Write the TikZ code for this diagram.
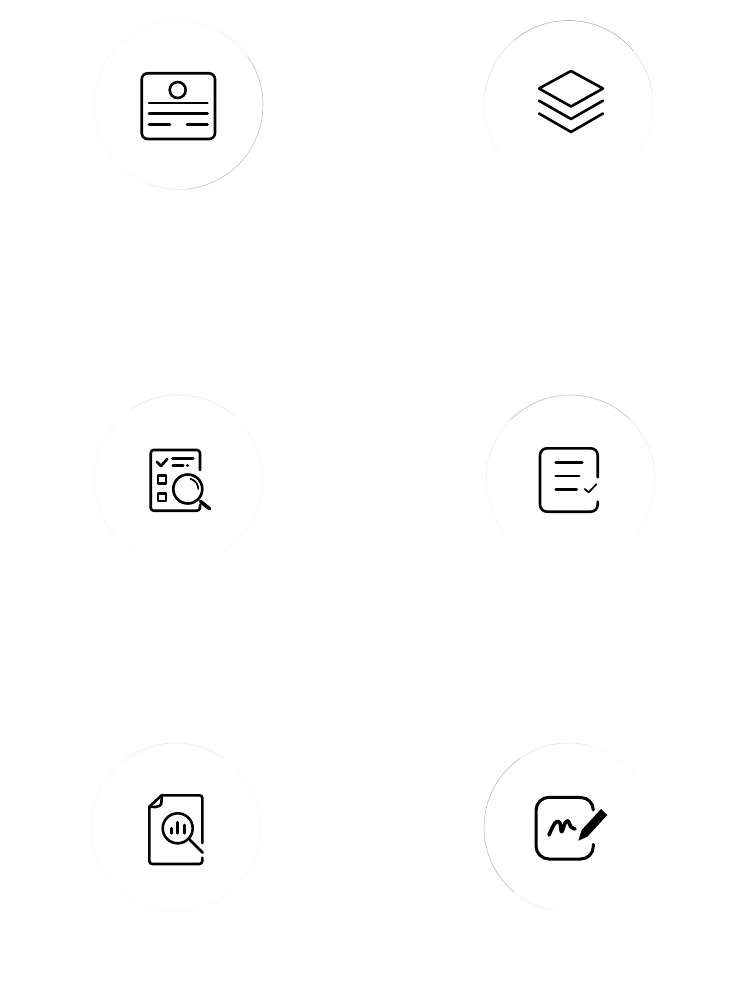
\documentclass[tikz,border=0pt]{standalone}
\newcommand{\ringarc}[5]{\draw[ringline,draw=black!#5] (#1,#2) ++(#3:84.5) arc (#3:#4:84.5);}
\tikzset{
  ringline/.style={line width=0.6pt},
  icon/.style={line width=2.6pt,draw=black,line cap=round,line join=round},
  thinicon/.style={line width=1.7pt,draw=black,line cap=round,line join=round},
  thickicon/.style={line width=3.6pt,draw=black,line cap=round,line join=round}
}
\begin{document}
\begin{tikzpicture}[x=1pt,y=-1pt]
\useasboundingbox[fill=white] (0,0) rectangle (750,1000);
% ring 1
\ringarc{178.5}{105}{110}{300}{3}
\ringarc{178.5}{105}{-60}{-35}{8}
\ringarc{178.5}{105}{-35}{20}{24}
\ringarc{178.5}{105}{20}{85}{24}
\ringarc{178.5}{105}{85}{110}{8}
% ring 2
\ringarc{568.5}{105}{-170}{-130}{12}
\ringarc{568.5}{105}{-130}{-40}{30}
\ringarc{568.5}{105}{-40}{-10}{12}
\ringarc{568.5}{105}{-10}{35}{3}
\ringarc{568.5}{105}{145}{190}{3}
% ring 3
\ringarc{178.5}{479.5}{-50}{60}{3}
\ringarc{178.5}{479.5}{120}{235}{3}
\ringarc{178.5}{479.5}{60}{120}{1}
\ringarc{178.5}{479.5}{-125}{-50}{9}
% ring 4
\ringarc{570.5}{479.5}{-180}{-135}{7}
\ringarc{570.5}{479.5}{-135}{-45}{26}
\ringarc{570.5}{479.5}{-45}{0}{7}
\ringarc{570.5}{479.5}{0}{40}{3}
\ringarc{570.5}{479.5}{140}{180}{3}
% ring 5
\ringarc{175.5}{827.5}{-55}{235}{3}
\ringarc{175.5}{827.5}{-125}{-55}{8}
% ring 6
\ringarc{568.5}{827.5}{100}{130}{6}
\ringarc{568.5}{827.5}{130}{235}{26}
\ringarc{568.5}{827.5}{235}{285}{10}
\ringarc{568.5}{827.5}{285}{325}{3}
% icon 1: id card
\draw[icon,rounded corners=6pt] (141.7,73.3) rectangle (215,139);
\draw[icon] (177.7,90) circle[radius=8];
\draw[icon] (149,103) -- (207.5,103);
\draw[icon] (149,113.7) -- (207.5,113.7);
\draw[icon] (149,124.3) -- (170,124.3);
\draw[icon] (187,124.3) -- (207.5,124.3);
% icon 2: layers
\draw[icon] (571,71) -- (603,88.5) -- (571,106.5) -- (539,88.5) -- cycle;
\draw[icon] (539,100.7) -- (571,119) -- (603,100.7);
\draw[icon] (539,113.5) -- (571,132) -- (603,113.5);
% icon 3: checklist with lens
\draw[icon,rounded corners=3pt] (200,470) -- (200,450) -- (150.7,450) -- (150.7,510.7) -- (200,510.7) -- (200,505);
\draw[icon] (156.7,461.7) -- (161,466) -- (167.3,459);
\draw[icon] (172.5,458.3) -- (193.3,458.3);
\draw[icon] (172.7,465.7) -- (183.3,465.7);
\draw[icon] (187.3,465.7) -- (187.6,465.7);
\draw[icon] (158,475.7) rectangle (166,483.7);
\draw[icon] (158,493.3) rectangle (166,501);
\draw[icon] (187.8,489) circle[radius=14.5];
\draw[thinicon] (187.8,489) ++(-75:10.5) arc (-75:0:10.5);
\draw[thickicon] (200.5,501.5) -- (209.5,508.7);
% icon 4: note with check
\draw[icon,rounded corners=7pt] (597.7,477.3) -- (597.7,448.3) -- (540,448.3) -- (540,511.7) -- (597.7,511.7) -- (597.7,501.7);
\draw[icon] (555.7,462.3) -- (582.3,462.3);
\draw[icon] (555.7,476) -- (579.3,476);
\draw[icon] (555.7,489.7) -- (576.7,489.7);
\draw[thinicon] (584.7,489) -- (588.7,492.3) -- (596.3,484.3);
% icon 5: document with lens
\draw[icon] (202.3,843) -- (202.3,798) arc (0:-90:2.7) -- (161.7,795.3) -- (149.3,806.7) -- (149.3,861) arc (180:90:3) -- (199.3,864) arc (90:0:3) -- (202.3,857.7);
\draw[icon] (161.7,795.3) -- (161.5,802) .. controls (161.5,805.5) and (158.5,807) .. (155.5,807) -- (149.3,806.7);
\draw[icon] (177.7,828.3) circle[radius=15];
\draw[icon] (190,840) -- (202.7,852.7);
\draw[icon] (171.7,828.3) -- (171.7,833.3);
\draw[icon] (177.7,822.3) -- (177.7,833.3);
\draw[icon] (184.3,825) -- (184.3,833.3);
% icon 6: signature with pen
\draw[icon,line width=3pt] (593.3,810) arc (0:-90:12.5) -- (549,797.3) arc (-90:-180:13) -- (536,846) arc (180:90:13) -- (580.8,859) arc (90:0:12.5) -- (593.3,844.3);
\fill[black] (601,809) -- (607.3,815) -- (587.3,836.7) -- (578.3,840.7) -- (581.7,830) -- cycle;
\draw[thickicon] plot[smooth,tension=0.7] coordinates {(549,835) (553.3,825.7) (556.7,821.7) (560,823.3) (561.7,831.7) (565,823.3) (568.3,821) (570.7,826.7) (575,829)};
\end{tikzpicture}
\end{document}
